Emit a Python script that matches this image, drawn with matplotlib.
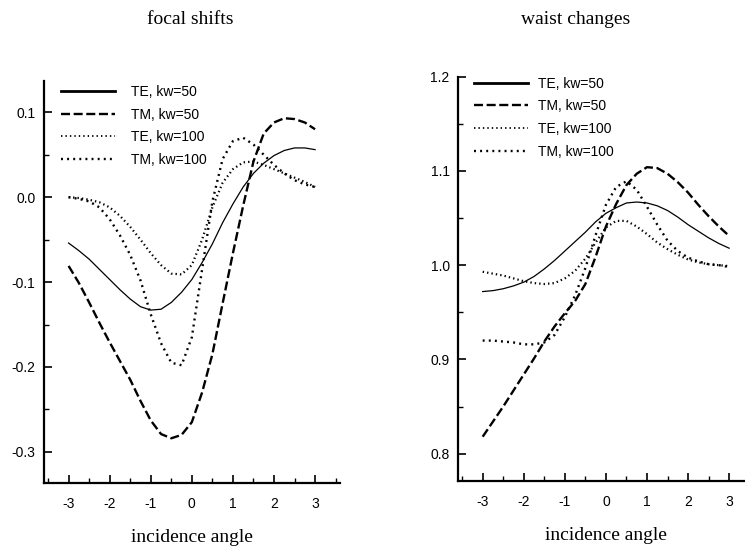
import matplotlib
matplotlib.use('Agg')
import matplotlib.pyplot as plt
from matplotlib.lines import Line2D
from matplotlib.ticker import MultipleLocator

plt.rcParams['font.family'] = 'Liberation Sans'
plt.rcParams['lines.scale_dashes'] = False

###
# Data

angle = [-3.0, -2.75, -2.5, -2.25, -2.0, -1.75, -1.5, -1.25, -1.0, -0.75, -0.5, -0.25,
         0.0, 0.25, 0.5, 0.75, 1.0, 1.25, 1.5, 1.75, 2.0, 2.25, 2.5, 2.75, 3.0]

# focal shifts
focal_te50 = [-0.054, -0.063, -0.073, -0.085, -0.097, -0.109, -0.120, -0.129, -0.133, -0.132,
              -0.124, -0.112, -0.097, -0.077, -0.055, -0.030, -0.008, 0.012, 0.028, 0.040,
              0.049, 0.055, 0.058, 0.058, 0.056]
focal_tm50 = [-0.081, -0.101, -0.124, -0.148, -0.171, -0.193, -0.215, -0.240, -0.263, -0.279,
              -0.284, -0.280, -0.265, -0.230, -0.185, -0.125, -0.066, -0.010, 0.042, 0.075,
              0.088, 0.093, 0.092, 0.088, 0.080]
focal_te100 = [0.000, -0.001, -0.003, -0.006, -0.012, -0.022, -0.035, -0.050, -0.066, -0.080,
               -0.090, -0.091, -0.080, -0.050, -0.012, 0.017, 0.033, 0.041, 0.042, 0.038,
               0.033, 0.028, 0.023, 0.018, 0.012]
focal_tm100 = [0.000, -0.002, -0.005, -0.012, -0.026, -0.045, -0.068, -0.098, -0.138, -0.172,
               -0.195, -0.198, -0.165, -0.085, -0.005, 0.045, 0.066, 0.070, 0.062, 0.050,
               0.038, 0.028, 0.020, 0.015, 0.012]

# waist changes
waist_te50 = [0.972, 0.973, 0.975, 0.978, 0.982, 0.988, 0.996, 1.005, 1.015, 1.025, 1.035, 1.046,
              1.055, 1.061, 1.066, 1.067, 1.066, 1.063, 1.058, 1.051, 1.043, 1.036, 1.029, 1.023,
              1.018]
waist_tm50 = [0.818, 0.834, 0.850, 0.867, 0.884, 0.901, 0.919, 0.935, 0.949, 0.962, 0.980, 1.009,
              1.041, 1.065, 1.085, 1.097, 1.104, 1.103, 1.097, 1.088, 1.077, 1.064, 1.052, 1.041,
              1.031]
waist_te100 = [0.993, 0.991, 0.989, 0.986, 0.983, 0.981, 0.980, 0.981, 0.986, 0.994, 1.007, 1.024,
               1.040, 1.047, 1.047, 1.041, 1.033, 1.024, 1.017, 1.011, 1.006, 1.003, 1.001, 1.000,
               0.999]
waist_tm100 = [0.920, 0.920, 0.919, 0.918, 0.916, 0.916, 0.918, 0.926, 0.945, 0.968, 0.997, 1.032,
               1.064, 1.083, 1.089, 1.080, 1.062, 1.043, 1.026, 1.015, 1.008, 1.004, 1.001, 1.000,
               0.998]

labels = ['TE, kw=50', 'TM, kw=50', 'TE, kw=100', 'TM, kw=100']

###
# Line styles

styles = [
    dict(color='black', lw=0.9, linestyle='-'),
    dict(color='black', lw=1.7, linestyle=(0, (6.5, 2.6))),
    dict(color='black', lw=1.6, linestyle=(0, (1.0, 2.2))),
    dict(color='black', lw=1.7, linestyle=(0, (1.4, 3.0))),
]
legend_widths = [2.0, 1.7, 1.3, 1.7]


def style_axes(ax, ylim, ymajor, yminor, yfmt):
    ax.set_xlim(-3.6, 3.6)
    ax.set_ylim(*ylim)
    for side in ['top', 'right']:
        ax.spines[side].set_visible(False)
    for side in ['left', 'bottom']:
        ax.spines[side].set_linewidth(1.6)
    ax.xaxis.set_major_locator(MultipleLocator(1))
    ax.xaxis.set_minor_locator(MultipleLocator(0.5))
    ax.yaxis.set_major_locator(MultipleLocator(ymajor))
    ax.yaxis.set_minor_locator(MultipleLocator(yminor))
    ax.yaxis.set_major_formatter(yfmt)
    ax.tick_params(which='major', direction='in', length=6, width=1.2, labelsize=10, pad=6)
    ax.tick_params(which='minor', direction='in', length=3.5, width=1.0)
    ax.tick_params(axis='x', pad=10)
    ax.set_xticks([-3, -2, -1, 0, 1, 2, 3])
    ax.set_xticklabels(['-3', '-2', '-1', '0', '1', '2', '3'])
    ax.set_xlabel('incidence angle', family='Liberation Serif', fontsize=14, labelpad=13)


def add_legend(ax, anchor, textpad):
    handles = [Line2D([], [], color='black', lw=w, linestyle=s['linestyle'])
               for s, w in zip(styles, legend_widths)]
    ax.legend(handles, labels, loc='upper left', bbox_to_anchor=anchor, frameon=False,
              fontsize=10, handlelength=3.9, handletextpad=textpad, labelspacing=0.62,
              borderpad=0, borderaxespad=0)


fig = plt.figure(figsize=(7.45, 5.52), dpi=100)

# left panel: focal shifts
ax1 = fig.add_axes([0.059, 0.1245, 0.397, 0.729])
for y, s in zip([focal_te50, focal_tm50, focal_te100, focal_tm100], styles):
    ax1.plot(angle, y, **s)
style_axes(ax1, (-0.337, 0.137), 0.1, 0.05, lambda v, p: f'{v:.1f}'.replace('-0.0', '0.0'))
add_legend(ax1, (0.056, 0.99), 1.2)
fig.text(0.255, 0.965, 'focal shifts', family='Liberation Serif', fontsize=14,
         ha='center', va='center')

# right panel: waist changes
ax2 = fig.add_axes([0.6148, 0.1286, 0.397, 0.7325])
for y, s in zip([waist_te50, waist_tm50, waist_te100, waist_tm100], styles):
    ax2.plot(angle, y, **s)
style_axes(ax2, (0.771, 1.2), 0.1, 0.05, lambda v, p: f'{v:.1f}')
add_legend(ax2, (0.053, 1.0), 0.7)
fig.text(0.772, 0.965, 'waist changes', family='Liberation Serif', fontsize=14,
         ha='center', va='center')

fig.savefig('out.png', dpi=100)
